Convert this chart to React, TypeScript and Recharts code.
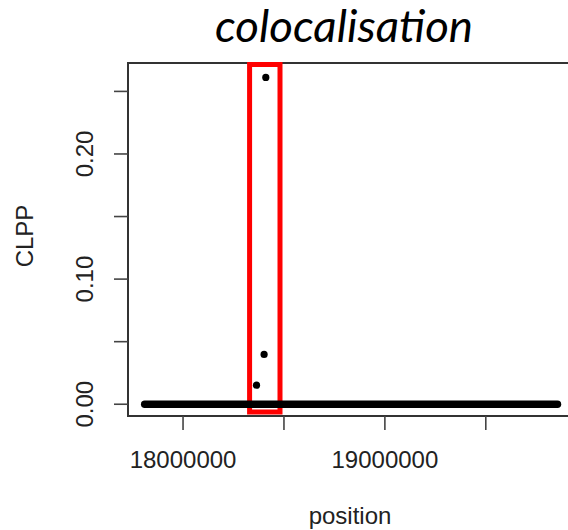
import React from "react";
import {
  ComposedChart,
  XAxis,
  YAxis,
  Scatter,
  Line,
  ReferenceArea,
} from "recharts";

// ---- data ----
const xTicks = [18000000, 18500000, 19000000, 19500000];
const xLabeledTicks = [18000000, 19000000];
const yTicks = [0, 0.05, 0.1, 0.15, 0.2, 0.25];
const yLabeledTicks = [0, 0.1, 0.2];

// non-zero CLPP SNPs
const snpPosition = [18363900, 18401600, 18410000];
const snpClpp = [0.0152, 0.0398, 0.2612];

// extent of the dense run of SNPs with CLPP = 0
const zeroPositions = [17810000, 19855000];
const zeroClpp = [0, 0];

// highlighted region (red box)
const highlightX = [18329700, 18480400];
const highlightY = [-0.0062, 0.2715];

const xDomain = [17727300, 19937000];
const yDomain = [-0.0094, 0.2727];

const snpData = snpPosition.map((p, i) => ({ pos: p, clpp: snpClpp[i] }));
const zeroData = zeroPositions.map((p, i) => ({ pos: p, clpp: zeroClpp[i] }));

const FONT = "'Liberation Sans', Arial, Helvetica, sans-serif";
const TEXT_FILL = "#222";

const XTick = (props: any) => {
  const { x, y, payload } = props;
  if (!xLabeledTicks.includes(payload.value)) return null;
  return (
    <text
      x={x}
      y={y + 36}
      textAnchor="middle"
      fontFamily={FONT}
      fontSize={24}
      fill={TEXT_FILL}
    >
      {String(payload.value)}
    </text>
  );
};

const YTick = (props: any) => {
  const { x, y, payload } = props;
  if (!yLabeledTicks.some((t) => Math.abs(t - payload.value) < 1e-9)) return null;
  const bx = x - 18.7;
  return (
    <text
      x={bx}
      y={y}
      transform={`rotate(-90, ${bx}, ${y})`}
      textAnchor="middle"
      fontFamily={FONT}
      fontSize={24}
      fill={TEXT_FILL}
    >
      {Number(payload.value).toFixed(2)}
    </text>
  );
};

const Dot = (props: any) => (
  <circle cx={props.cx} cy={props.cy} r={3.6} fill="#000" />
);

export default function App() {
  return (
    <div
      style={{
        position: "absolute",
        left: 0,
        top: 0,
        width: 568,
        height: 530,
        overflow: "hidden",
        background: "#fff",
      }}
    >
      <ComposedChart
        width={590}
        height={530}
        margin={{ top: 63, right: 16, bottom: 0, left: 0 }}
      >
        <XAxis
          dataKey="pos"
          type="number"
          domain={xDomain}
          ticks={xTicks}
          allowDataOverflow
          height={114}
          axisLine={false}
          tickSize={14}
          tickMargin={2}
          tickLine={{ stroke: "#444", strokeWidth: 1.6 }}
          tick={<XTick />}
          interval={0}
        />
        <YAxis
          dataKey="clpp"
          type="number"
          domain={yDomain}
          ticks={yTicks}
          allowDataOverflow
          width={128}
          axisLine={false}
          tickSize={14}
          tickMargin={2}
          tickLine={{ stroke: "#444", strokeWidth: 1.6 }}
          tick={<YTick />}
          interval={0}
        />
        <ReferenceArea
          x1={xDomain[0]}
          x2={xDomain[1]}
          y1={yDomain[0]}
          y2={yDomain[1]}
          stroke="#333"
          strokeWidth={2}
          fill="none"
          fillOpacity={0}
          ifOverflow="visible"
        />
        <ReferenceArea
          x1={highlightX[0]}
          x2={highlightX[1]}
          y1={highlightY[0]}
          y2={highlightY[1]}
          stroke="#ff0000"
          strokeWidth={5}
          fill="none"
          fillOpacity={0}
          ifOverflow="visible"
        />
        <Line
          data={zeroData}
          dataKey="clpp"
          type="linear"
          stroke="#000"
          strokeWidth={7.5}
          strokeLinecap="round"
          dot={false}
          activeDot={false}
          isAnimationActive={false}
        />
        <Scatter
          data={snpData}
          dataKey="clpp"
          shape={<Dot />}
          isAnimationActive={false}
        />
        <text
          x={344}
          y={42}
          textAnchor="middle"
          fontFamily="Lato, 'Open Sans', sans-serif"
          fontStyle="italic"
          fontSize={44}
          textLength={258}
          lengthAdjust="spacingAndGlyphs"
          fill="#000"
        >
          colocalisation
        </text>
        <text
          x={350}
          y={524}
          textAnchor="middle"
          fontFamily={FONT}
          fontSize={24}
          fill={TEXT_FILL}
        >
          position
        </text>
        <text
          x={33}
          y={236}
          transform="rotate(-90, 33, 236)"
          textAnchor="middle"
          fontFamily={FONT}
          fontSize={24}
          fill={TEXT_FILL}
        >
          CLPP
        </text>
      </ComposedChart>
    </div>
  );
}
